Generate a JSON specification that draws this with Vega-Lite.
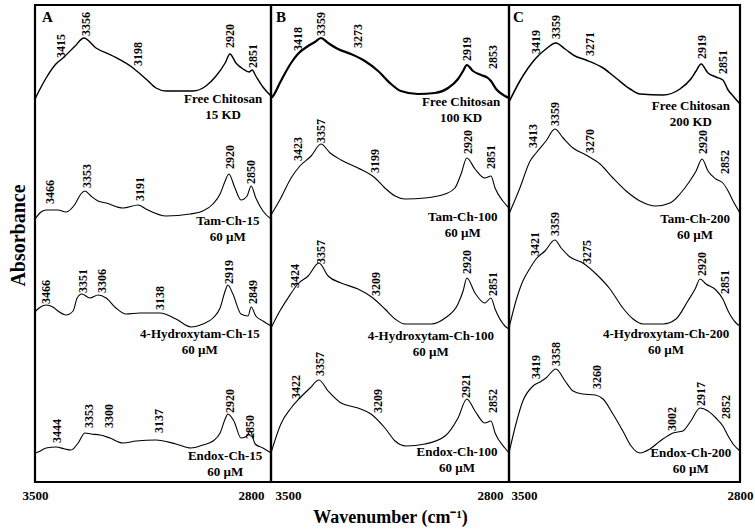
{
"$schema": "https://vega.github.io/schema/vega-lite/v6.json",
"background": "white",
"padding": {"left": 6, "top": 3, "right": 0, "bottom": 0},
"bounds": "flush",
"spacing": 0,
"config": {"view": {"stroke": "black", "strokeWidth": 2.2}, "font": "Liberation Serif"},
"datasets": {
"spectra": [
{"panel":"A","sample":"A1","wavenumber":3500,"absorbance":3.83},{"panel":"A","sample":"A1","wavenumber":3485,"absorbance":3.93},{"panel":"A","sample":"A1","wavenumber":3467,"absorbance":4.04},{"panel":"A","sample":"A1","wavenumber":3438,"absorbance":4.18},{"panel":"A","sample":"A1","wavenumber":3417,"absorbance":4.24},{"panel":"A","sample":"A1","wavenumber":3381,"absorbance":4.36},{"panel":"A","sample":"A1","wavenumber":3355,"absorbance":4.44},{"panel":"A","sample":"A1","wavenumber":3319,"absorbance":4.34},{"panel":"A","sample":"A1","wavenumber":3269,"absorbance":4.26},{"panel":"A","sample":"A1","wavenumber":3209,"absorbance":4.14},{"panel":"A","sample":"A1","wavenumber":3171,"absorbance":4.03},{"panel":"A","sample":"A1","wavenumber":3141,"absorbance":3.94},{"panel":"A","sample":"A1","wavenumber":3111,"absorbance":3.91},{"panel":"A","sample":"A1","wavenumber":3031,"absorbance":3.91},{"panel":"A","sample":"A1","wavenumber":2993,"absorbance":3.96},{"panel":"A","sample":"A1","wavenumber":2963,"absorbance":4.06},{"panel":"A","sample":"A1","wavenumber":2936,"absorbance":4.19},{"panel":"A","sample":"A1","wavenumber":2922,"absorbance":4.28},{"panel":"A","sample":"A1","wavenumber":2904,"absorbance":4.19},{"panel":"A","sample":"A1","wavenumber":2883,"absorbance":4.13},{"panel":"A","sample":"A1","wavenumber":2865,"absorbance":4.10},{"panel":"A","sample":"A1","wavenumber":2856,"absorbance":4.12},{"panel":"A","sample":"A1","wavenumber":2845,"absorbance":4.06},{"panel":"A","sample":"A1","wavenumber":2824,"absorbance":3.95},{"panel":"A","sample":"A1","wavenumber":2800,"absorbance":3.86},
{"panel":"A","sample":"A2","wavenumber":3500,"absorbance":2.63},{"panel":"A","sample":"A2","wavenumber":3482,"absorbance":2.70},{"panel":"A","sample":"A2","wavenumber":3467,"absorbance":2.72},{"panel":"A","sample":"A2","wavenumber":3432,"absorbance":2.72},{"panel":"A","sample":"A2","wavenumber":3408,"absorbance":2.70},{"panel":"A","sample":"A2","wavenumber":3381,"absorbance":2.78},{"panel":"A","sample":"A2","wavenumber":3364,"absorbance":2.88},{"panel":"A","sample":"A2","wavenumber":3352,"absorbance":2.91},{"panel":"A","sample":"A2","wavenumber":3334,"absorbance":2.86},{"panel":"A","sample":"A2","wavenumber":3313,"absorbance":2.81},{"panel":"A","sample":"A2","wavenumber":3289,"absorbance":2.79},{"panel":"A","sample":"A2","wavenumber":3239,"absorbance":2.74},{"panel":"A","sample":"A2","wavenumber":3194,"absorbance":2.77},{"panel":"A","sample":"A2","wavenumber":3171,"absorbance":2.73},{"panel":"A","sample":"A2","wavenumber":3111,"absorbance":2.66},{"panel":"A","sample":"A2","wavenumber":3040,"absorbance":2.68},{"panel":"A","sample":"A2","wavenumber":3002,"absorbance":2.71},{"panel":"A","sample":"A2","wavenumber":2972,"absorbance":2.78},{"panel":"A","sample":"A2","wavenumber":2951,"absorbance":2.88},{"panel":"A","sample":"A2","wavenumber":2936,"absorbance":3.01},{"panel":"A","sample":"A2","wavenumber":2925,"absorbance":3.08},{"panel":"A","sample":"A2","wavenumber":2907,"absorbance":2.94},{"panel":"A","sample":"A2","wavenumber":2889,"absorbance":2.82},{"panel":"A","sample":"A2","wavenumber":2871,"absorbance":2.86},{"panel":"A","sample":"A2","wavenumber":2859,"absorbance":2.96},{"panel":"A","sample":"A2","wavenumber":2845,"absorbance":2.84},{"panel":"A","sample":"A2","wavenumber":2824,"absorbance":2.71},{"panel":"A","sample":"A2","wavenumber":2800,"absorbance":2.63},
{"panel":"A","sample":"A3","wavenumber":3500,"absorbance":1.70},{"panel":"A","sample":"A3","wavenumber":3488,"absorbance":1.74},{"panel":"A","sample":"A3","wavenumber":3467,"absorbance":1.77},{"panel":"A","sample":"A3","wavenumber":3447,"absorbance":1.75},{"panel":"A","sample":"A3","wavenumber":3432,"absorbance":1.71},{"panel":"A","sample":"A3","wavenumber":3408,"absorbance":1.67},{"panel":"A","sample":"A3","wavenumber":3387,"absorbance":1.71},{"panel":"A","sample":"A3","wavenumber":3375,"absorbance":1.84},{"panel":"A","sample":"A3","wavenumber":3361,"absorbance":1.88},{"panel":"A","sample":"A3","wavenumber":3337,"absorbance":1.84},{"panel":"A","sample":"A3","wavenumber":3313,"absorbance":1.87},{"panel":"A","sample":"A3","wavenumber":3289,"absorbance":1.84},{"panel":"A","sample":"A3","wavenumber":3260,"absorbance":1.74},{"panel":"A","sample":"A3","wavenumber":3230,"absorbance":1.68},{"panel":"A","sample":"A3","wavenumber":3189,"absorbance":1.69},{"panel":"A","sample":"A3","wavenumber":3129,"absorbance":1.69},{"panel":"A","sample":"A3","wavenumber":3082,"absorbance":1.63},{"panel":"A","sample":"A3","wavenumber":3037,"absorbance":1.55},{"panel":"A","sample":"A3","wavenumber":3002,"absorbance":1.58},{"panel":"A","sample":"A3","wavenumber":2972,"absorbance":1.64},{"panel":"A","sample":"A3","wavenumber":2951,"absorbance":1.74},{"panel":"A","sample":"A3","wavenumber":2936,"absorbance":1.91},{"panel":"A","sample":"A3","wavenumber":2928,"absorbance":1.97},{"panel":"A","sample":"A3","wavenumber":2913,"absorbance":1.88},{"panel":"A","sample":"A3","wavenumber":2889,"absorbance":1.68},{"panel":"A","sample":"A3","wavenumber":2868,"absorbance":1.66},{"panel":"A","sample":"A3","wavenumber":2859,"absorbance":1.75},{"panel":"A","sample":"A3","wavenumber":2845,"absorbance":1.66},{"panel":"A","sample":"A3","wavenumber":2824,"absorbance":1.61},{"panel":"A","sample":"A3","wavenumber":2800,"absorbance":1.56},
{"panel":"A","sample":"A4","wavenumber":3500,"absorbance":0.29},{"panel":"A","sample":"A4","wavenumber":3491,"absorbance":0.30},{"panel":"A","sample":"A4","wavenumber":3467,"absorbance":0.34},{"panel":"A","sample":"A4","wavenumber":3438,"absorbance":0.35},{"panel":"A","sample":"A4","wavenumber":3411,"absorbance":0.33},{"panel":"A","sample":"A4","wavenumber":3393,"absorbance":0.32},{"panel":"A","sample":"A4","wavenumber":3372,"absorbance":0.39},{"panel":"A","sample":"A4","wavenumber":3352,"absorbance":0.49},{"panel":"A","sample":"A4","wavenumber":3334,"absorbance":0.48},{"panel":"A","sample":"A4","wavenumber":3307,"absorbance":0.47},{"panel":"A","sample":"A4","wavenumber":3278,"absorbance":0.44},{"panel":"A","sample":"A4","wavenumber":3239,"absorbance":0.39},{"panel":"A","sample":"A4","wavenumber":3200,"absorbance":0.41},{"panel":"A","sample":"A4","wavenumber":3141,"absorbance":0.42},{"panel":"A","sample":"A4","wavenumber":3082,"absorbance":0.38},{"panel":"A","sample":"A4","wavenumber":3037,"absorbance":0.34},{"panel":"A","sample":"A4","wavenumber":3002,"absorbance":0.37},{"panel":"A","sample":"A4","wavenumber":2972,"absorbance":0.41},{"panel":"A","sample":"A4","wavenumber":2951,"absorbance":0.49},{"panel":"A","sample":"A4","wavenumber":2936,"absorbance":0.63},{"panel":"A","sample":"A4","wavenumber":2928,"absorbance":0.68},{"panel":"A","sample":"A4","wavenumber":2910,"absorbance":0.61},{"panel":"A","sample":"A4","wavenumber":2889,"absorbance":0.44},{"panel":"A","sample":"A4","wavenumber":2871,"absorbance":0.46},{"panel":"A","sample":"A4","wavenumber":2862,"absorbance":0.51},{"panel":"A","sample":"A4","wavenumber":2847,"absorbance":0.38},{"panel":"A","sample":"A4","wavenumber":2824,"absorbance":0.34},{"panel":"A","sample":"A4","wavenumber":2800,"absorbance":0.29},
{"panel":"B","sample":"B1","wavenumber":3500,"absorbance":3.84},{"panel":"B","sample":"B1","wavenumber":3494,"absorbance":3.86},{"panel":"B","sample":"B1","wavenumber":3471,"absorbance":4.01},{"panel":"B","sample":"B1","wavenumber":3441,"absorbance":4.19},{"panel":"B","sample":"B1","wavenumber":3421,"absorbance":4.28},{"panel":"B","sample":"B1","wavenumber":3391,"absorbance":4.36},{"panel":"B","sample":"B1","wavenumber":3371,"absorbance":4.40},{"panel":"B","sample":"B1","wavenumber":3353,"absorbance":4.44},{"panel":"B","sample":"B1","wavenumber":3332,"absorbance":4.39},{"panel":"B","sample":"B1","wavenumber":3303,"absorbance":4.33},{"panel":"B","sample":"B1","wavenumber":3265,"absorbance":4.28},{"panel":"B","sample":"B1","wavenumber":3224,"absorbance":4.21},{"panel":"B","sample":"B1","wavenumber":3185,"absorbance":4.11},{"panel":"B","sample":"B1","wavenumber":3147,"absorbance":3.98},{"panel":"B","sample":"B1","wavenumber":3118,"absorbance":3.91},{"panel":"B","sample":"B1","wavenumber":3068,"absorbance":3.88},{"panel":"B","sample":"B1","wavenumber":3018,"absorbance":3.89},{"panel":"B","sample":"B1","wavenumber":2979,"absorbance":3.94},{"panel":"B","sample":"B1","wavenumber":2950,"absorbance":4.03},{"panel":"B","sample":"B1","wavenumber":2935,"absorbance":4.11},{"panel":"B","sample":"B1","wavenumber":2924,"absorbance":4.17},{"panel":"B","sample":"B1","wavenumber":2906,"absorbance":4.11},{"panel":"B","sample":"B1","wavenumber":2882,"absorbance":4.07},{"panel":"B","sample":"B1","wavenumber":2862,"absorbance":4.04},{"panel":"B","sample":"B1","wavenumber":2853,"absorbance":4.01},{"panel":"B","sample":"B1","wavenumber":2838,"absorbance":3.93},{"panel":"B","sample":"B1","wavenumber":2812,"absorbance":3.86},{"panel":"B","sample":"B1","wavenumber":2800,"absorbance":3.84},
{"panel":"B","sample":"B2","wavenumber":3500,"absorbance":2.67},{"panel":"B","sample":"B2","wavenumber":3471,"absorbance":2.84},{"panel":"B","sample":"B2","wavenumber":3441,"absorbance":3.04},{"panel":"B","sample":"B2","wavenumber":3415,"absorbance":3.16},{"panel":"B","sample":"B2","wavenumber":3382,"absorbance":3.26},{"panel":"B","sample":"B2","wavenumber":3353,"absorbance":3.38},{"panel":"B","sample":"B2","wavenumber":3326,"absorbance":3.29},{"panel":"B","sample":"B2","wavenumber":3294,"absorbance":3.22},{"panel":"B","sample":"B2","wavenumber":3244,"absorbance":3.14},{"panel":"B","sample":"B2","wavenumber":3194,"absorbance":3.04},{"panel":"B","sample":"B2","wavenumber":3165,"absorbance":2.94},{"panel":"B","sample":"B2","wavenumber":3135,"absorbance":2.86},{"panel":"B","sample":"B2","wavenumber":3106,"absorbance":2.83},{"panel":"B","sample":"B2","wavenumber":3047,"absorbance":2.84},{"panel":"B","sample":"B2","wavenumber":2988,"absorbance":2.88},{"panel":"B","sample":"B2","wavenumber":2959,"absorbance":2.94},{"panel":"B","sample":"B2","wavenumber":2941,"absorbance":3.08},{"panel":"B","sample":"B2","wavenumber":2924,"absorbance":3.24},{"panel":"B","sample":"B2","wavenumber":2900,"absorbance":3.13},{"panel":"B","sample":"B2","wavenumber":2871,"absorbance":3.04},{"panel":"B","sample":"B2","wavenumber":2853,"absorbance":3.06},{"panel":"B","sample":"B2","wavenumber":2841,"absorbance":2.94},{"panel":"B","sample":"B2","wavenumber":2818,"absorbance":2.81},{"panel":"B","sample":"B2","wavenumber":2800,"absorbance":2.74},
{"panel":"B","sample":"B3","wavenumber":3500,"absorbance":1.54},{"panel":"B","sample":"B3","wavenumber":3474,"absorbance":1.71},{"panel":"B","sample":"B3","wavenumber":3450,"absorbance":1.84},{"panel":"B","sample":"B3","wavenumber":3421,"absorbance":1.98},{"panel":"B","sample":"B3","wavenumber":3391,"absorbance":2.06},{"panel":"B","sample":"B3","wavenumber":3359,"absorbance":2.19},{"panel":"B","sample":"B3","wavenumber":3332,"absorbance":2.06},{"panel":"B","sample":"B3","wavenumber":3294,"absorbance":1.99},{"panel":"B","sample":"B3","wavenumber":3244,"absorbance":1.93},{"panel":"B","sample":"B3","wavenumber":3200,"absorbance":1.84},{"panel":"B","sample":"B3","wavenumber":3165,"absorbance":1.73},{"panel":"B","sample":"B3","wavenumber":3135,"absorbance":1.63},{"panel":"B","sample":"B3","wavenumber":3106,"absorbance":1.58},{"panel":"B","sample":"B3","wavenumber":3029,"absorbance":1.58},{"panel":"B","sample":"B3","wavenumber":2988,"absorbance":1.64},{"panel":"B","sample":"B3","wavenumber":2950,"absorbance":1.78},{"panel":"B","sample":"B3","wavenumber":2935,"absorbance":1.91},{"panel":"B","sample":"B3","wavenumber":2924,"absorbance":2.04},{"panel":"B","sample":"B3","wavenumber":2900,"absorbance":1.89},{"panel":"B","sample":"B3","wavenumber":2871,"absorbance":1.79},{"panel":"B","sample":"B3","wavenumber":2853,"absorbance":1.84},{"panel":"B","sample":"B3","wavenumber":2841,"absorbance":1.73},{"panel":"B","sample":"B3","wavenumber":2812,"absorbance":1.56},{"panel":"B","sample":"B3","wavenumber":2800,"absorbance":1.53},
{"panel":"B","sample":"B4","wavenumber":3500,"absorbance":0.29},{"panel":"B","sample":"B4","wavenumber":3471,"absorbance":0.58},{"panel":"B","sample":"B4","wavenumber":3441,"absorbance":0.74},{"panel":"B","sample":"B4","wavenumber":3415,"absorbance":0.84},{"panel":"B","sample":"B4","wavenumber":3385,"absorbance":0.94},{"panel":"B","sample":"B4","wavenumber":3359,"absorbance":1.02},{"panel":"B","sample":"B4","wavenumber":3332,"absorbance":0.91},{"panel":"B","sample":"B4","wavenumber":3294,"absorbance":0.79},{"panel":"B","sample":"B4","wavenumber":3244,"absorbance":0.74},{"panel":"B","sample":"B4","wavenumber":3206,"absorbance":0.68},{"panel":"B","sample":"B4","wavenumber":3165,"absorbance":0.54},{"panel":"B","sample":"B4","wavenumber":3135,"absorbance":0.41},{"panel":"B","sample":"B4","wavenumber":3103,"absorbance":0.36},{"panel":"B","sample":"B4","wavenumber":3047,"absorbance":0.38},{"panel":"B","sample":"B4","wavenumber":2988,"absorbance":0.46},{"panel":"B","sample":"B4","wavenumber":2950,"absorbance":0.64},{"panel":"B","sample":"B4","wavenumber":2924,"absorbance":0.83},{"panel":"B","sample":"B4","wavenumber":2900,"absorbance":0.71},{"panel":"B","sample":"B4","wavenumber":2871,"absorbance":0.59},{"panel":"B","sample":"B4","wavenumber":2853,"absorbance":0.61},{"panel":"B","sample":"B4","wavenumber":2841,"absorbance":0.49},{"panel":"B","sample":"B4","wavenumber":2812,"absorbance":0.34},{"panel":"B","sample":"B4","wavenumber":2800,"absorbance":0.29},
{"panel":"C","sample":"C1","wavenumber":3500,"absorbance":3.80},{"panel":"C","sample":"C1","wavenumber":3467,"absorbance":4.01},{"panel":"C","sample":"C1","wavenumber":3442,"absorbance":4.14},{"panel":"C","sample":"C1","wavenumber":3418,"absorbance":4.24},{"panel":"C","sample":"C1","wavenumber":3388,"absorbance":4.33},{"panel":"C","sample":"C1","wavenumber":3358,"absorbance":4.39},{"panel":"C","sample":"C1","wavenumber":3330,"absorbance":4.33},{"panel":"C","sample":"C1","wavenumber":3300,"absorbance":4.26},{"panel":"C","sample":"C1","wavenumber":3267,"absorbance":4.22},{"panel":"C","sample":"C1","wavenumber":3215,"absorbance":4.14},{"panel":"C","sample":"C1","wavenumber":3176,"absorbance":4.04},{"panel":"C","sample":"C1","wavenumber":3133,"absorbance":3.93},{"panel":"C","sample":"C1","wavenumber":3103,"absorbance":3.88},{"panel":"C","sample":"C1","wavenumber":3033,"absorbance":3.87},{"panel":"C","sample":"C1","wavenumber":2982,"absorbance":3.93},{"panel":"C","sample":"C1","wavenumber":2949,"absorbance":4.03},{"panel":"C","sample":"C1","wavenumber":2933,"absorbance":4.11},{"panel":"C","sample":"C1","wavenumber":2918,"absorbance":4.18},{"panel":"C","sample":"C1","wavenumber":2897,"absorbance":4.09},{"panel":"C","sample":"C1","wavenumber":2873,"absorbance":4.05},{"panel":"C","sample":"C1","wavenumber":2852,"absorbance":4.02},{"panel":"C","sample":"C1","wavenumber":2836,"absorbance":3.92},{"panel":"C","sample":"C1","wavenumber":2821,"absorbance":3.86},{"panel":"C","sample":"C1","wavenumber":2800,"absorbance":3.78},
{"panel":"C","sample":"C2","wavenumber":3500,"absorbance":2.68},{"panel":"C","sample":"C2","wavenumber":3467,"absorbance":2.94},{"panel":"C","sample":"C2","wavenumber":3436,"absorbance":3.21},{"panel":"C","sample":"C2","wavenumber":3418,"absorbance":3.29},{"panel":"C","sample":"C2","wavenumber":3388,"absorbance":3.41},{"panel":"C","sample":"C2","wavenumber":3361,"absorbance":3.53},{"panel":"C","sample":"C2","wavenumber":3336,"absorbance":3.44},{"panel":"C","sample":"C2","wavenumber":3306,"absorbance":3.34},{"panel":"C","sample":"C2","wavenumber":3267,"absorbance":3.27},{"panel":"C","sample":"C2","wavenumber":3224,"absorbance":3.18},{"panel":"C","sample":"C2","wavenumber":3185,"absorbance":3.04},{"panel":"C","sample":"C2","wavenumber":3145,"absorbance":2.91},{"panel":"C","sample":"C2","wavenumber":3103,"absorbance":2.81},{"panel":"C","sample":"C2","wavenumber":3055,"absorbance":2.76},{"panel":"C","sample":"C2","wavenumber":3012,"absorbance":2.79},{"panel":"C","sample":"C2","wavenumber":2982,"absorbance":2.88},{"panel":"C","sample":"C2","wavenumber":2952,"absorbance":3.01},{"panel":"C","sample":"C2","wavenumber":2933,"absorbance":3.11},{"panel":"C","sample":"C2","wavenumber":2915,"absorbance":3.23},{"panel":"C","sample":"C2","wavenumber":2897,"absorbance":3.11},{"panel":"C","sample":"C2","wavenumber":2873,"absorbance":3.03},{"panel":"C","sample":"C2","wavenumber":2852,"absorbance":2.99},{"panel":"C","sample":"C2","wavenumber":2836,"absorbance":2.91},{"panel":"C","sample":"C2","wavenumber":2821,"absorbance":2.81},{"panel":"C","sample":"C2","wavenumber":2800,"absorbance":2.69},
{"panel":"C","sample":"C3","wavenumber":3500,"absorbance":1.54},{"panel":"C","sample":"C3","wavenumber":3479,"absorbance":1.81},{"panel":"C","sample":"C3","wavenumber":3458,"absorbance":2.01},{"panel":"C","sample":"C3","wavenumber":3436,"absorbance":2.14},{"panel":"C","sample":"C3","wavenumber":3418,"absorbance":2.23},{"panel":"C","sample":"C3","wavenumber":3391,"absorbance":2.31},{"panel":"C","sample":"C3","wavenumber":3361,"absorbance":2.42},{"panel":"C","sample":"C3","wavenumber":3342,"absorbance":2.34},{"panel":"C","sample":"C3","wavenumber":3315,"absorbance":2.25},{"panel":"C","sample":"C3","wavenumber":3276,"absorbance":2.19},{"panel":"C","sample":"C3","wavenumber":3236,"absorbance":2.08},{"panel":"C","sample":"C3","wavenumber":3194,"absorbance":1.93},{"panel":"C","sample":"C3","wavenumber":3155,"absorbance":1.74},{"panel":"C","sample":"C3","wavenumber":3124,"absorbance":1.63},{"panel":"C","sample":"C3","wavenumber":3094,"absorbance":1.58},{"panel":"C","sample":"C3","wavenumber":3033,"absorbance":1.58},{"panel":"C","sample":"C3","wavenumber":2994,"absorbance":1.63},{"panel":"C","sample":"C3","wavenumber":2958,"absorbance":1.81},{"panel":"C","sample":"C3","wavenumber":2936,"absorbance":1.93},{"panel":"C","sample":"C3","wavenumber":2921,"absorbance":2.03},{"panel":"C","sample":"C3","wavenumber":2903,"absorbance":1.98},{"panel":"C","sample":"C3","wavenumber":2873,"absorbance":1.92},{"panel":"C","sample":"C3","wavenumber":2852,"absorbance":1.83},{"panel":"C","sample":"C3","wavenumber":2836,"absorbance":1.71},{"panel":"C","sample":"C3","wavenumber":2812,"absorbance":1.59},{"panel":"C","sample":"C3","wavenumber":2800,"absorbance":1.56},
{"panel":"C","sample":"C4","wavenumber":3500,"absorbance":0.29},{"panel":"C","sample":"C4","wavenumber":3479,"absorbance":0.58},{"panel":"C","sample":"C4","wavenumber":3458,"absorbance":0.81},{"panel":"C","sample":"C4","wavenumber":3427,"absorbance":0.96},{"panel":"C","sample":"C4","wavenumber":3406,"absorbance":1.00},{"panel":"C","sample":"C4","wavenumber":3388,"absorbance":1.04},{"panel":"C","sample":"C4","wavenumber":3358,"absorbance":1.13},{"panel":"C","sample":"C4","wavenumber":3330,"absorbance":1.01},{"panel":"C","sample":"C4","wavenumber":3306,"absorbance":0.91},{"panel":"C","sample":"C4","wavenumber":3276,"absorbance":0.88},{"panel":"C","sample":"C4","wavenumber":3239,"absorbance":0.87},{"panel":"C","sample":"C4","wavenumber":3215,"absorbance":0.83},{"panel":"C","sample":"C4","wavenumber":3185,"absorbance":0.68},{"panel":"C","sample":"C4","wavenumber":3155,"absorbance":0.51},{"panel":"C","sample":"C4","wavenumber":3130,"absorbance":0.36},{"panel":"C","sample":"C4","wavenumber":3103,"absorbance":0.29},{"panel":"C","sample":"C4","wavenumber":3073,"absorbance":0.33},{"panel":"C","sample":"C4","wavenumber":3042,"absorbance":0.41},{"panel":"C","sample":"C4","wavenumber":3003,"absorbance":0.49},{"panel":"C","sample":"C4","wavenumber":2973,"absorbance":0.51},{"panel":"C","sample":"C4","wavenumber":2949,"absorbance":0.61},{"panel":"C","sample":"C4","wavenumber":2921,"absorbance":0.74},{"panel":"C","sample":"C4","wavenumber":2897,"absorbance":0.71},{"panel":"C","sample":"C4","wavenumber":2873,"absorbance":0.64},{"panel":"C","sample":"C4","wavenumber":2852,"absorbance":0.56},{"panel":"C","sample":"C4","wavenumber":2836,"absorbance":0.46},{"panel":"C","sample":"C4","wavenumber":2821,"absorbance":0.38},{"panel":"C","sample":"C4","wavenumber":2800,"absorbance":0.31}
],
"peaks": [
{"panel":"A","wavenumber":3423,"absorbance":4.24,"label":"3415"},{"panel":"A","wavenumber":3349,"absorbance":4.46,"label":"3356"},{"panel":"A","wavenumber":3194,"absorbance":4.16,"label":"3198"},{"panel":"A","wavenumber":2922,"absorbance":4.34,"label":"2920"},{"panel":"A","wavenumber":2853,"absorbance":4.14,"label":"2851"},
{"panel":"A","wavenumber":3456,"absorbance":2.78,"label":"3466"},{"panel":"A","wavenumber":3346,"absorbance":2.94,"label":"3353"},{"panel":"A","wavenumber":3189,"absorbance":2.81,"label":"3191"},{"panel":"A","wavenumber":2922,"absorbance":3.13,"label":"2920"},{"panel":"A","wavenumber":2859,"absorbance":2.98,"label":"2850"},
{"panel":"A","wavenumber":3467,"absorbance":1.78,"label":"3466"},{"panel":"A","wavenumber":3358,"absorbance":1.89,"label":"3351"},{"panel":"A","wavenumber":3301,"absorbance":1.89,"label":"3306"},{"panel":"A","wavenumber":3129,"absorbance":1.72,"label":"3138"},{"panel":"A","wavenumber":2925,"absorbance":1.98,"label":"2919"},{"panel":"A","wavenumber":2853,"absorbance":1.78,"label":"2849"},
{"panel":"A","wavenumber":3435,"absorbance":0.39,"label":"3444"},{"panel":"A","wavenumber":3340,"absorbance":0.54,"label":"3353"},{"panel":"A","wavenumber":3281,"absorbance":0.54,"label":"3300"},{"panel":"A","wavenumber":3132,"absorbance":0.49,"label":"3137"},{"panel":"A","wavenumber":2922,"absorbance":0.69,"label":"2920"},{"panel":"A","wavenumber":2862,"absorbance":0.43,"label":"2850"},
{"panel":"B","wavenumber":3421,"absorbance":4.31,"label":"3418"},{"panel":"B","wavenumber":3353,"absorbance":4.46,"label":"3359"},{"panel":"B","wavenumber":3244,"absorbance":4.34,"label":"3273"},{"panel":"B","wavenumber":2924,"absorbance":4.21,"label":"2919"},{"panel":"B","wavenumber":2847,"absorbance":4.13,"label":"2853"},
{"panel":"B","wavenumber":3421,"absorbance":3.21,"label":"3423"},{"panel":"B","wavenumber":3353,"absorbance":3.39,"label":"3357"},{"panel":"B","wavenumber":3194,"absorbance":3.09,"label":"3199"},{"panel":"B","wavenumber":2921,"absorbance":3.28,"label":"2920"},{"panel":"B","wavenumber":2853,"absorbance":3.13,"label":"2851"},
{"panel":"B","wavenumber":3429,"absorbance":1.94,"label":"3424"},{"panel":"B","wavenumber":3353,"absorbance":2.18,"label":"3357"},{"panel":"B","wavenumber":3191,"absorbance":1.86,"label":"3209"},{"panel":"B","wavenumber":2924,"absorbance":2.08,"label":"2920"},{"panel":"B","wavenumber":2847,"absorbance":1.86,"label":"2851"},
{"panel":"B","wavenumber":3426,"absorbance":0.83,"label":"3422"},{"panel":"B","wavenumber":3356,"absorbance":1.06,"label":"3357"},{"panel":"B","wavenumber":3185,"absorbance":0.69,"label":"3209"},{"panel":"B","wavenumber":2926,"absorbance":0.84,"label":"2921"},{"panel":"B","wavenumber":2847,"absorbance":0.69,"label":"2852"},
{"panel":"C","wavenumber":3418,"absorbance":4.28,"label":"3419"},{"panel":"C","wavenumber":3358,"absorbance":4.43,"label":"3359"},{"panel":"C","wavenumber":3255,"absorbance":4.26,"label":"3271"},{"panel":"C","wavenumber":2915,"absorbance":4.23,"label":"2919"},{"panel":"C","wavenumber":2852,"absorbance":4.08,"label":"2851"},
{"panel":"C","wavenumber":3427,"absorbance":3.34,"label":"3413"},{"panel":"C","wavenumber":3361,"absorbance":3.56,"label":"3359"},{"panel":"C","wavenumber":3255,"absorbance":3.29,"label":"3270"},{"panel":"C","wavenumber":2912,"absorbance":3.28,"label":"2920"},{"panel":"C","wavenumber":2846,"absorbance":3.08,"label":"2852"},
{"panel":"C","wavenumber":3421,"absorbance":2.26,"label":"3421"},{"panel":"C","wavenumber":3361,"absorbance":2.46,"label":"3359"},{"panel":"C","wavenumber":3264,"absorbance":2.18,"label":"3275"},{"panel":"C","wavenumber":2915,"absorbance":2.06,"label":"2920"},{"panel":"C","wavenumber":2846,"absorbance":1.88,"label":"2851"},
{"panel":"C","wavenumber":3418,"absorbance":1.03,"label":"3419"},{"panel":"C","wavenumber":3358,"absorbance":1.16,"label":"3358"},{"panel":"C","wavenumber":3233,"absorbance":0.93,"label":"3260"},{"panel":"C","wavenumber":3006,"absorbance":0.51,"label":"3002"},{"panel":"C","wavenumber":2918,"absorbance":0.76,"label":"2917"},{"panel":"C","wavenumber":2843,"absorbance":0.63,"label":"2852"}
],
"names": [
{"panel":"A","wavenumber":2942,"absorbance":3.89,"name":"Free Chitosan\n15 KD"},{"panel":"A","wavenumber":2928,"absorbance":2.67,"name":"Tam-Ch-15\n60 µM"},{"panel":"A","wavenumber":3011,"absorbance":1.54,"name":"4-Hydroxytam-Ch-15\n60 µM"},{"panel":"A","wavenumber":2936,"absorbance":0.32,"name":"Endox-Ch-15\n60 µM"},
{"panel":"B","wavenumber":2941,"absorbance":3.86,"name":"Free Chitosan\n100 KD"},{"panel":"B","wavenumber":2936,"absorbance":2.71,"name":"Tam-Ch-100\n60 µM"},{"panel":"B","wavenumber":3030,"absorbance":1.52,"name":"4-Hydroxytam-Ch-100\n60 µM"},{"panel":"B","wavenumber":2953,"absorbance":0.36,"name":"Endox-Ch-100\n60 µM"},
{"panel":"C","wavenumber":2949,"absorbance":3.82,"name":"Free Chitosan\n200 KD"},{"panel":"C","wavenumber":2936,"absorbance":2.69,"name":"Tam-Ch-200\n60 µM"},{"panel":"C","wavenumber":3024,"absorbance":1.54,"name":"4-Hydroxytam-Ch-200\n60 µM"},{"panel":"C","wavenumber":2949,"absorbance":0.35,"name":"Endox-Ch-200\n60 µM"}
],
"letters": [
{"panel":"A","wavenumber":3479,"absorbance":4.72,"letter":"A"},{"panel":"B","wavenumber":3485,"absorbance":4.72,"letter":"B"},{"panel":"C","wavenumber":3488,"absorbance":4.72,"letter":"C"}
]
},
"hconcat": [
{
"width": 236, "height": 477,
"encoding": {
"x": {"field":"wavenumber","type":"quantitative","scale":{"domain":[2800,3500],"reverse":true,"nice":false,"zero":false},
 "axis":{"values":[3500,2800],"format":"d","title":null,"domain":false,"ticks":false,"grid":false,"labelFont":"Liberation Serif","labelFontWeight":"bold","labelFontSize":13,"labelColor":"black","labelPadding":7,"labelFlush":false,"labelOverlap":false,"labelBound":false,
 "labelAlign":{"condition":{"test":"datum.value == 3500","value":"center"},"value":"right"},
 "labelOffset":{"condition":{"test":"datum.value == 3500","value":0},"value":-7}}},
"y": {"field":"absorbance","type":"quantitative","scale":{"domain":[0,4.77],"nice":false,"zero":false},
 "axis":{"title":"Absorbance","labels":false,"ticks":false,"domain":false,"grid":false,"titleFont":"Liberation Serif","titleFontWeight":"bold","titleFontSize":20,"titleColor":"black","titlePadding":7,"titleY":230}}
},
"layer": [
{"data":{"name":"spectra"},"transform":[{"filter":"datum.panel == 'A'"}],"mark":{"type":"line","color":"black","interpolate":"monotone"},
 "encoding":{"detail":{"field":"sample"},"strokeWidth":{"condition":[{"test":"datum.sample == 'A1'","value":1.4}],"value":1.1}}},
{"data":{"name":"peaks"},"transform":[{"filter":"datum.panel == 'A'"}],"mark":{"type":"text","angle":270,"align":"left","baseline":"middle","font":"Liberation Serif","fontWeight":"bold","fontSize":12,"color":"black"},
 "encoding":{"text":{"field":"label"}}},
{"data":{"name":"names"},"transform":[{"filter":"datum.panel == 'A'"}],"mark":{"type":"text","align":"center","baseline":"top","lineBreak":"\n","lineHeight":16,"font":"Liberation Serif","fontWeight":"bold","fontSize":13,"color":"black"},
 "encoding":{"text":{"field":"name"}}},
{"data":{"name":"letters"},"transform":[{"filter":"datum.panel == 'A'"}],"mark":{"type":"text","align":"left","baseline":"top","font":"Liberation Serif","fontWeight":"bold","fontSize":15,"color":"black"},
 "encoding":{"text":{"field":"letter"}}}
]
},
{
"width": 238, "height": 477,
"encoding": {
"x": {"field":"wavenumber","type":"quantitative","scale":{"domain":[2800,3500],"reverse":true,"nice":false,"zero":false},
 "axis":{"values":[3500,2800],"format":"d","title":"Wavenumber (cm⁻¹)","titleFont":"Liberation Serif","titleFontWeight":"bold","titleFontSize":18,"titleColor":"black","titlePadding":6,"domain":false,"ticks":false,"grid":false,"labelFont":"Liberation Serif","labelFontWeight":"bold","labelFontSize":13,"labelColor":"black","labelPadding":7,"labelFlush":false,"labelOverlap":false,"labelBound":false,
 "labelAlign":{"condition":{"test":"datum.value == 3500","value":"left"},"value":"right"},
 "labelOffset":{"condition":{"test":"datum.value == 3500","value":4},"value":-6}}},
"y": {"field":"absorbance","type":"quantitative","scale":{"domain":[0,4.77],"nice":false,"zero":false},"axis":null}
},
"layer": [
{"data":{"name":"spectra"},"transform":[{"filter":"datum.panel == 'B'"}],"mark":{"type":"line","color":"black","interpolate":"monotone"},
 "encoding":{"detail":{"field":"sample"},"strokeWidth":{"condition":[{"test":"datum.sample == 'B1'","value":2.2}],"value":1.1}}},
{"data":{"name":"peaks"},"transform":[{"filter":"datum.panel == 'B'"}],"mark":{"type":"text","angle":270,"align":"left","baseline":"middle","font":"Liberation Serif","fontWeight":"bold","fontSize":12,"color":"black"},
 "encoding":{"text":{"field":"label"}}},
{"data":{"name":"names"},"transform":[{"filter":"datum.panel == 'B'"}],"mark":{"type":"text","align":"center","baseline":"top","lineBreak":"\n","lineHeight":16,"font":"Liberation Serif","fontWeight":"bold","fontSize":13,"color":"black"},
 "encoding":{"text":{"field":"name"}}},
{"data":{"name":"letters"},"transform":[{"filter":"datum.panel == 'B'"}],"mark":{"type":"text","align":"left","baseline":"top","font":"Liberation Serif","fontWeight":"bold","fontSize":15,"color":"black"},
 "encoding":{"text":{"field":"letter"}}}
]
},
{
"width": 231, "height": 477,
"encoding": {
"x": {"field":"wavenumber","type":"quantitative","scale":{"domain":[2800,3500],"reverse":true,"nice":false,"zero":false},
 "axis":{"values":[3500,2800],"format":"d","title":null,"domain":false,"ticks":false,"grid":false,"labelFont":"Liberation Serif","labelFontWeight":"bold","labelFontSize":13,"labelColor":"black","labelPadding":7,"labelFlush":false,"labelOverlap":false,"labelBound":false,
 "labelAlign":{"condition":{"test":"datum.value == 3500","value":"left"},"value":"center"},
 "labelOffset":{"condition":{"test":"datum.value == 3500","value":2},"value":0}}},
"y": {"field":"absorbance","type":"quantitative","scale":{"domain":[0,4.77],"nice":false,"zero":false},"axis":null}
},
"layer": [
{"data":{"name":"spectra"},"transform":[{"filter":"datum.panel == 'C'"}],"mark":{"type":"line","color":"black","interpolate":"monotone"},
 "encoding":{"detail":{"field":"sample"},"strokeWidth":{"condition":[{"test":"datum.sample == 'C1'","value":1.5}],"value":1.1}}},
{"data":{"name":"peaks"},"transform":[{"filter":"datum.panel == 'C'"}],"mark":{"type":"text","angle":270,"align":"left","baseline":"middle","font":"Liberation Serif","fontWeight":"bold","fontSize":12,"color":"black"},
 "encoding":{"text":{"field":"label"}}},
{"data":{"name":"names"},"transform":[{"filter":"datum.panel == 'C'"}],"mark":{"type":"text","align":"center","baseline":"top","lineBreak":"\n","lineHeight":16,"font":"Liberation Serif","fontWeight":"bold","fontSize":13,"color":"black"},
 "encoding":{"text":{"field":"name"}}},
{"data":{"name":"letters"},"transform":[{"filter":"datum.panel == 'C'"}],"mark":{"type":"text","align":"left","baseline":"top","font":"Liberation Serif","fontWeight":"bold","fontSize":15,"color":"black"},
 "encoding":{"text":{"field":"letter"}}}
]
}
]
}
